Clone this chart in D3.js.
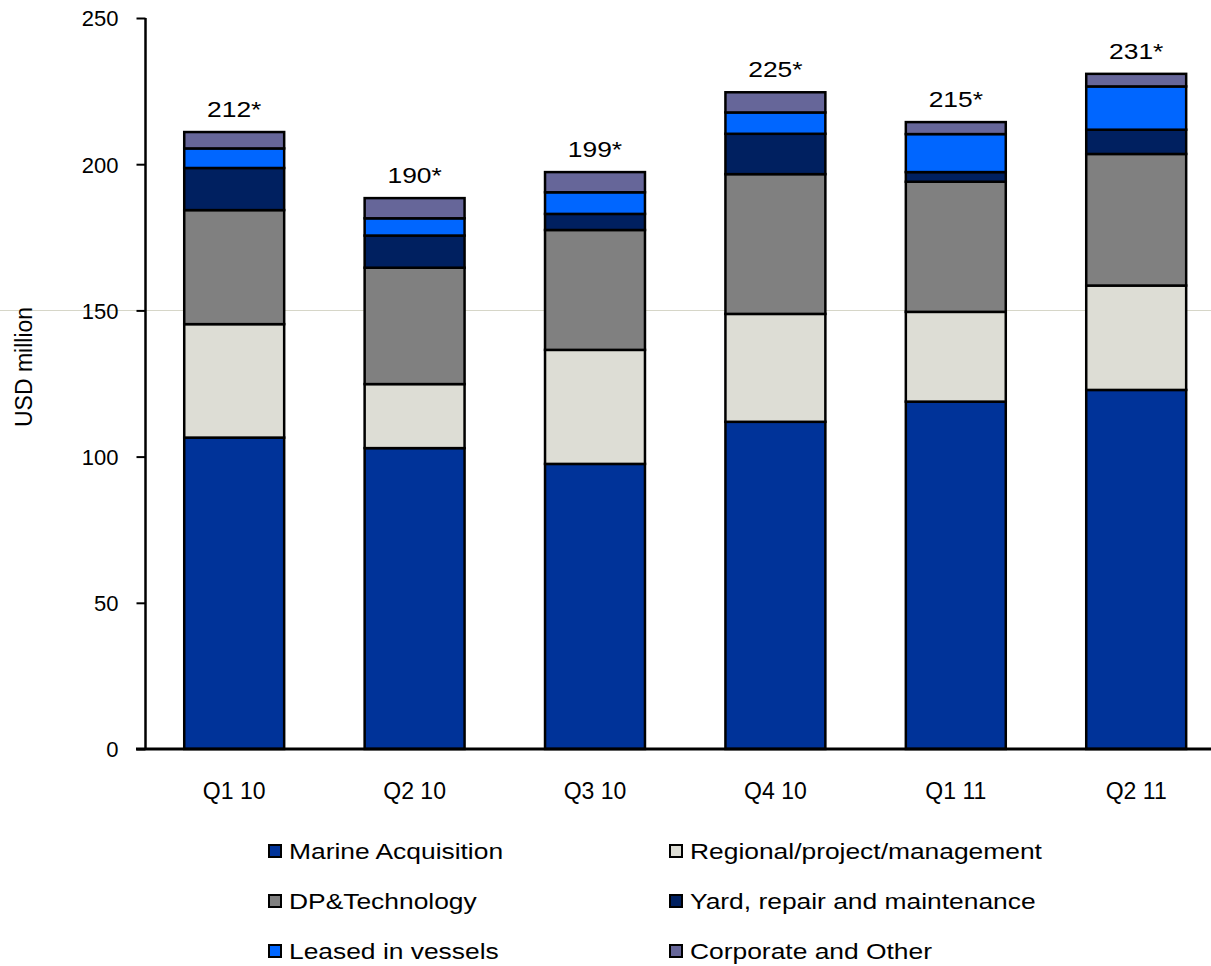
<!DOCTYPE html>
<html>
<head>
<meta charset="utf-8">
<script src="https://cdn.jsdelivr.net/npm/d3@7"></script>
<style>
  html, body { margin: 0; padding: 0; background: #fff; }
  svg { display: block; font-family: Arial, "Liberation Sans", sans-serif; }
</style>
</head>
<body>
<svg id="chart" width="1211" height="966"></svg>
<script>
// Quarters on the x axis
const quarters = ["Q1 10", "Q2 10", "Q3 10", "Q4 10", "Q1 11", "Q2 11"];

// Segment values per quarter, USD million (stacked bottom to top)
const marineAcquisition  = [106.5, 102.9,  97.5, 111.9, 118.8, 122.8];
const regionalProject    = [ 38.8,  21.9,  39.0,  36.9,  30.7,  35.7];
const dpTechnology       = [ 39.0,  39.8,  41.0,  47.8,  44.5,  45.0];
const yardRepair         = [ 14.4,  11.0,   5.5,  13.8,   3.3,   8.3];
const leasedVessels      = [  6.7,   5.9,   7.4,   7.3,  13.0,  14.8];
const corporateOther     = [  5.6,   6.9,   6.9,   6.9,   4.1,   4.3];

// Reported totals shown above each bar
const totalLabels = ["212*", "190*", "199*", "225*", "215*", "231*"];

// Y axis ticks
const yTicks = [0, 50, 100, 150, 200, 250];

const seriesNames = [
  "Marine Acquisition", "Regional/project/management", "DP&Technology",
  "Yard, repair and maintenance", "Leased in vessels", "Corporate and Other"
];
const seriesValues = [marineAcquisition, regionalProject, dpTechnology,
                      yardRepair, leasedVessels, corporateOther];
const seriesColors = ["#003399", "#DDDDD5", "#808080", "#002060", "#0066FF", "#666699"];

const rows = quarters.map((q, i) => {
  const r = { quarter: q };
  seriesNames.forEach((s, k) => { r[s] = seriesValues[k][i]; });
  return r;
});

const svg = d3.select("#chart");

const y = d3.scaleLinear().domain([0, 250]).range([749, 18]);
const x = d3.scaleBand().domain(quarters).range([144, 1226.4])
  .paddingInner(0.446).paddingOuter(0.223);

// Faint reference line at 150 spanning the whole width
svg.append("line")
  .attr("x1", 0).attr("x2", 1211)
  .attr("y1", Math.round(y(150)) + 0.5).attr("y2", Math.round(y(150)) + 0.5)
  .attr("stroke", "#d6d6c8").attr("stroke-width", 1);

// Stacked bars
const stack = d3.stack().keys(seriesNames)(rows);
const color = d3.scaleOrdinal().domain(seriesNames).range(seriesColors);

svg.append("g").selectAll("g")
  .data(stack).join("g")
  .attr("fill", d => color(d.key))
  .selectAll("rect")
  .data(d => d).join("rect")
  .attr("x", d => x(d.data.quarter))
  .attr("width", x.bandwidth())
  .attr("y", d => y(d[1]))
  .attr("height", d => y(d[0]) - y(d[1]))
  .attr("stroke", "#000")
  .attr("stroke-width", 2.5);

// Total labels above bars
const topSeries = stack[stack.length - 1];
svg.append("g").selectAll("text")
  .data(topSeries).join("text")
  .attr("transform", (d, i) =>
    `translate(${x(quarters[i]) + x.bandwidth() / 2},${y(d[1]) - 15}) scale(1.2,1)`)
  .attr("text-anchor", "middle")
  .attr("font-size", 22)
  .attr("fill", "#000")
  .text((d, i) => totalLabels[i]);

// Y axis
const yAxis = svg.append("g")
  .attr("transform", "translate(145.5,0)")
  .call(d3.axisLeft(y).tickValues(yTicks).tickSize(9).tickPadding(18).tickFormat(d3.format("d")));
yAxis.select(".domain").attr("stroke", "#000").attr("stroke-width", 2.5)
  .attr("d", `M0,${y(250)}V${y(0)}`);
yAxis.selectAll(".tick line").attr("stroke", "#000").attr("stroke-width", 2);
yAxis.selectAll(".tick text")
  .attr("font-size", 22).attr("font-family", "Arial, 'Liberation Sans', sans-serif")
  .attr("fill", "#000").attr("dy", "0.36em");

// X baseline
svg.append("line")
  .attr("x1", 136).attr("x2", 1211)
  .attr("y1", y(0)).attr("y2", y(0))
  .attr("stroke", "#000").attr("stroke-width", 3);

// Category labels
svg.append("g").selectAll("text")
  .data(quarters).join("text")
  .attr("x", d => x(d) + x.bandwidth() / 2)
  .attr("y", 799)
  .attr("text-anchor", "middle")
  .attr("font-size", 23)
  .attr("fill", "#000")
  .text(d => d);

// Y axis title
svg.append("text")
  .attr("transform", "translate(32,367) rotate(-90)")
  .attr("text-anchor", "middle")
  .attr("font-size", 23)
  .attr("fill", "#000")
  .text("USD million");

// Legend: two columns, three rows
const legend = svg.append("g");
const legendItems = legend.selectAll("g")
  .data(seriesNames).join("g")
  .attr("transform", (d, i) => {
    const col = i % 2, row = Math.floor(i / 2);
    return `translate(${col === 0 ? 268 : 669},${844 + row * 50})`;
  });
legendItems.append("rect")
  .attr("x", 1).attr("y", 1).attr("width", 12).attr("height", 12)
  .attr("fill", d => color(d))
  .attr("stroke", "#000").attr("stroke-width", 2);
legendItems.append("text")
  .attr("transform", "translate(21,15) scale(1.2,1)")
  .attr("font-size", 22)
  .attr("fill", "#000")
  .text(d => d);
</script>
</body>
</html>
